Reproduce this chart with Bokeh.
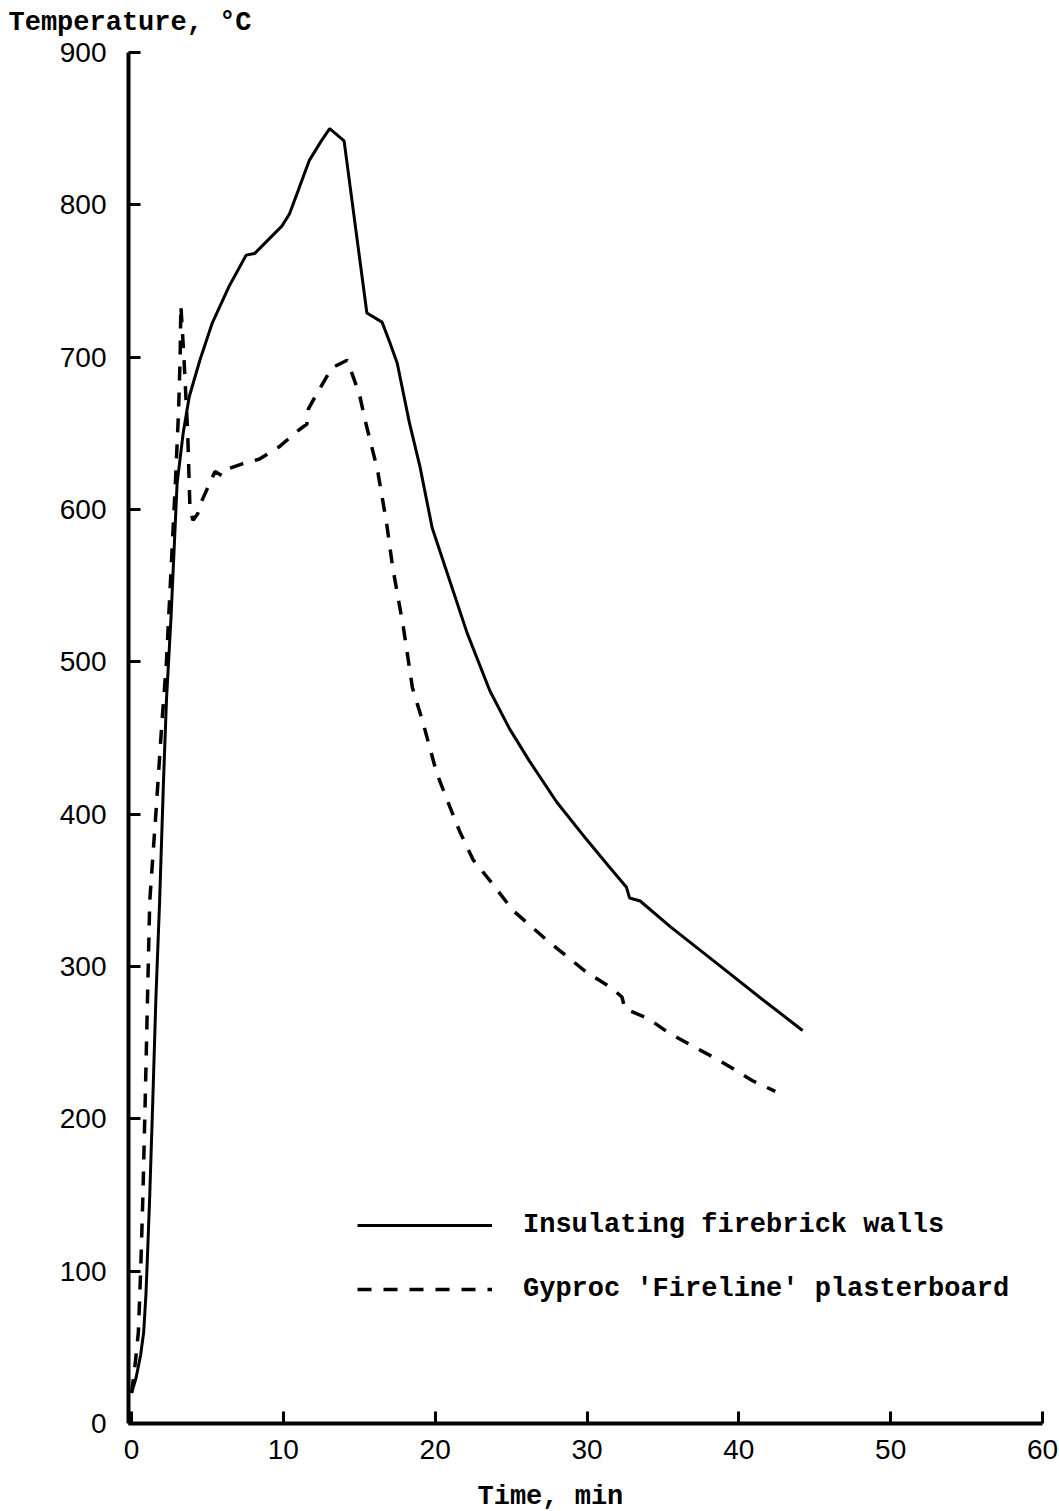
from bokeh.plotting import figure
from bokeh.models import Legend, LegendItem, FixedTicker, Title
from bokeh.embed import file_html
from bokeh.resources import INLINE

# Compartment gas temperature (deg C) against time (min)
firebrick_time = [0.0, 0.3, 0.6, 0.8, 0.95, 1.05, 1.2, 1.4, 1.6, 1.85, 2.1, 2.3, 2.6, 2.8,
                  3.0, 3.4, 3.8, 4.5, 5.3, 6.4, 7.55, 8.1, 9.0, 9.9, 10.4, 11.0, 11.7, 12.5,
                  13.05, 14.0, 15.5, 16.5, 17.0, 17.5, 18.3, 19.0, 19.8, 20.8, 22.1, 23.6,
                  24.9, 26.2, 28.0, 30.0, 31.5, 32.6, 32.8, 33.5, 35.5, 38.3, 41.6, 44.2]
firebrick_temp = [20, 30, 45, 60, 85, 110, 150, 212, 278, 343, 420, 475, 529, 573,
                  617, 650, 674, 698, 722, 746, 767, 768, 777, 786, 794, 810, 829, 842,
                  850, 842, 729, 723, 710, 696, 657, 628, 588, 558, 519, 481,
                  456, 435, 408, 383, 365, 352, 345, 343, 326, 304, 278, 258]

fireline_time = [0.0, 0.25, 0.45, 0.6, 0.75, 0.9, 1.05, 1.2, 1.6, 2.0, 2.3, 2.6, 2.9,
                 3.1, 3.2, 3.25, 3.45, 3.7, 3.85, 4.05, 4.35, 4.6, 5.0, 5.5, 6.0, 6.45,
                 7.3, 8.4, 9.7, 11.0, 11.55, 11.65, 12.2, 13.2, 14.2, 15.0, 15.4, 16.2,
                 16.8, 17.2, 17.9, 18.5, 19.2, 20.1, 20.8, 21.6, 22.5, 23.8, 25.1, 27.5,
                 30.0, 31.6, 32.3, 32.5, 32.8, 34.0, 35.3, 36.9, 38.4, 39.6, 40.9, 42.4]
fireline_temp = [20, 40, 60, 100, 150, 212, 278, 343, 400, 460, 500, 560, 620,
                 665, 700, 734, 700, 650, 600, 593, 597, 605, 614, 625, 622, 627,
                 630, 633, 641, 652, 656, 666, 676, 693, 698, 676, 658, 626,
                 591, 562, 523, 483, 460, 427, 409, 389, 370, 354, 337, 316,
                 296, 286, 280, 272, 271, 266, 257, 248, 240, 233, 225, 218]

x_ticks = [0, 10, 20, 30, 40, 50, 60]
y_ticks = [0, 100, 200, 300, 400, 500, 600, 700, 800, 900]

series_names = ["Insulating firebrick walls", "Gyproc 'Fireline' plasterboard"]
y_title = "Temperature, \u00b0C"
x_title = "Time, min"

MONO = "Liberation Mono"
SANS = "Liberation Sans"

p = figure(width=1059, height=1511, x_range=(-0.2, 60), y_range=(0, 900),
           output_backend="svg", toolbar_location=None,
           min_border_left=128, min_border_right=17,
           min_border_top=52, min_border_bottom=87)
p.outline_line_color = None
p.grid.visible = False
p.background_fill_color = "white"
p.border_fill_color = "white"

for ax in (p.xaxis[0], p.yaxis[0]):
    ax.axis_line_width = 4
    ax.axis_line_color = "black"
    ax.major_tick_line_width = 3
    ax.major_tick_line_color = "black"
    ax.major_tick_in = 12
    ax.major_tick_out = 0
    ax.minor_tick_line_color = None
    ax.major_label_text_font = SANS
    ax.major_label_text_font_size = "28px"
    ax.major_label_text_color = "black"

p.xaxis.ticker = FixedTicker(ticks=x_ticks)
p.yaxis.ticker = FixedTicker(ticks=y_ticks)
p.xaxis.major_label_standoff = 16
p.yaxis.major_label_standoff = 22

solid = p.line(firebrick_time, firebrick_temp, line_color="black", line_width=3)
dashed = p.line(fireline_time, fireline_temp, line_color="black", line_width=3.5,
                line_dash="14 12")

legend = Legend(items=[LegendItem(label=series_names[0], renderers=[solid]),
                       LegendItem(label=series_names[1], renderers=[dashed])],
                location=(229, 119), orientation="vertical",
                glyph_width=135, glyph_height=30, label_height=30,
                label_standoff=31, spacing=34, padding=0, margin=0,
                border_line_color=None, background_fill_alpha=0,
                label_text_font=MONO, label_text_font_size="27px",
                label_text_font_style="bold", label_text_color="black")
p.add_layout(legend, "center")


def spacer(gap):
    # blank side-panel entry that only reserves vertical room
    return Title(text=" ", text_font_size="1px", standoff=gap)


def caption(text, offset):
    return Title(text=text, align="left", offset=offset, standoff=0,
                 vertical_align="bottom", text_font=MONO, text_font_size="27px",
                 text_font_style="bold", text_color="black")


# Quantity names: temperature written above the vertical axis, time under the axis
p.add_layout(spacer(12), "above")
p.add_layout(caption(y_title, -120), "above")
p.add_layout(spacer(15), "below")
p.add_layout(caption(x_title, 349), "below")

open("out.html", "w").write(file_html(p, INLINE))
